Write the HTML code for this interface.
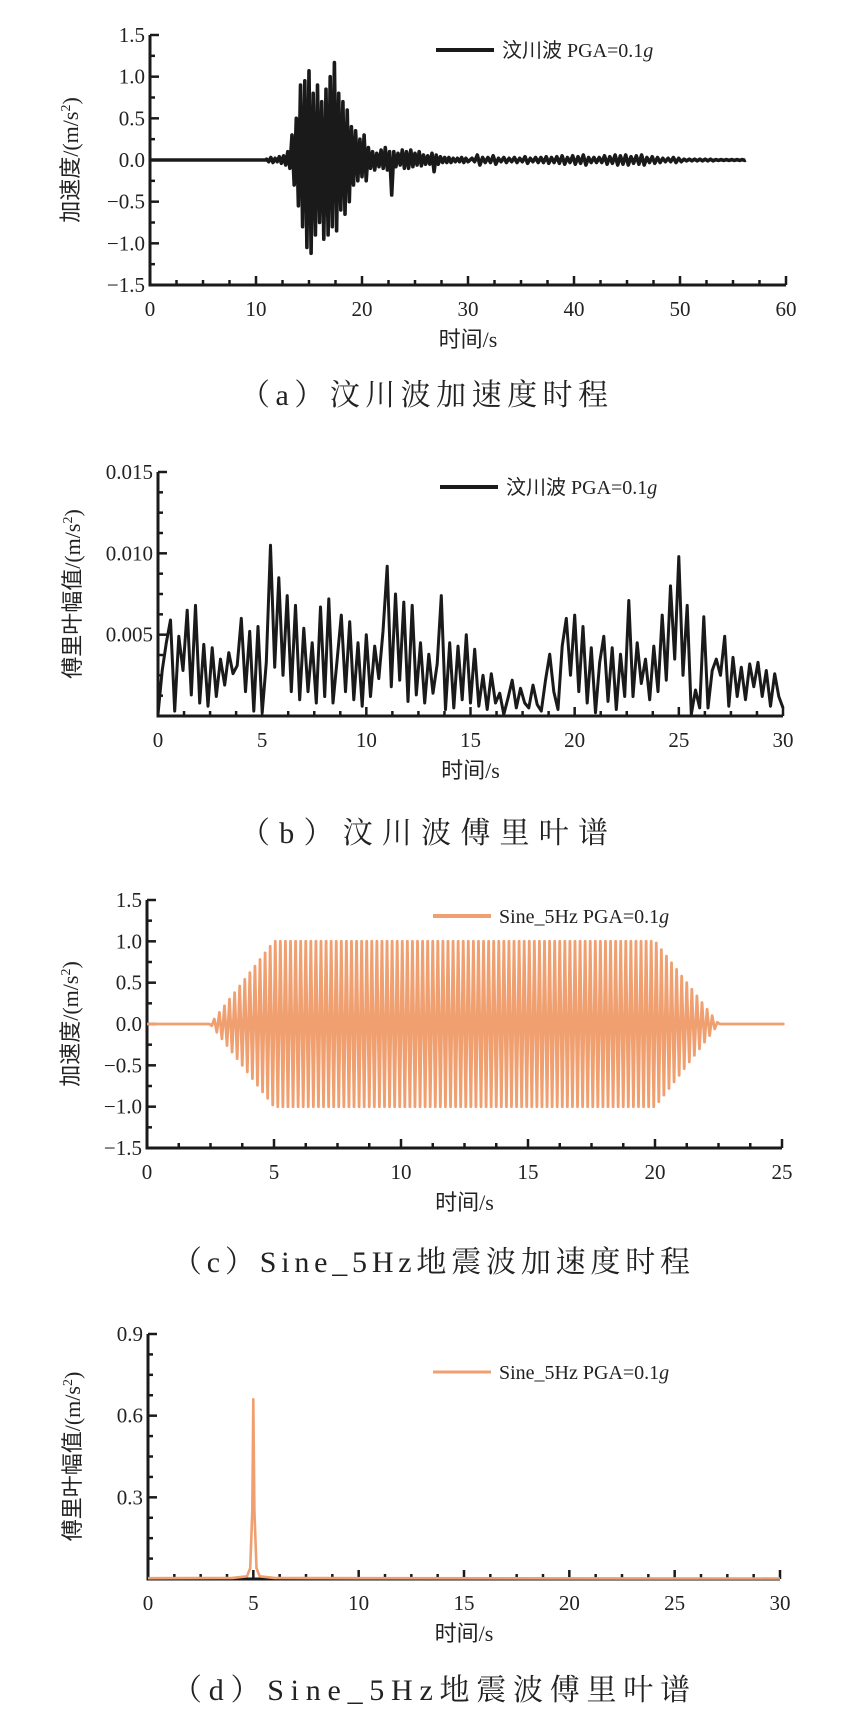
<!DOCTYPE html>
<html><head><meta charset="utf-8"><style>
body{margin:0;background:#fff;}
svg text{font-family:"Liberation Serif","Noto Serif CJK SC",serif;fill:#222;}
.cj{font-family:"Liberation Serif","Noto Sans CJK SC",sans-serif;}
.cap{font-family:"Liberation Serif","Noto Serif CJK SC",serif;}
</style></head><body>
<svg id="fig" width="861" height="1728" viewBox="0 0 861 1728" xmlns="http://www.w3.org/2000/svg"></svg>
<script>
// ---------- data: (a) Wenchuan acceleration peaks, t = 11.0 .. 30.0 step 0.2 ----------
const accStart = 11.0, accStep = 0.2;
const accPeaks = [0.01,-0.02,0.03,-0.03,0.02,-0.02,0.04,-0.04,0.05,-0.06,0.1,-0.1,0.3,-0.3,0.5,-0.55,0.9,-0.8,0.95,-1.05,1.07,-1.12,0.8,-0.9,0.9,-0.75,0.7,-0.95,0.85,-0.9,1.0,-0.8,1.17,-0.85,0.8,-0.6,0.7,-0.65,0.6,-0.5,0.4,-0.3,0.35,-0.25,0.25,-0.2,0.3,-0.25,0.15,-0.1,0.1,-0.12,0.08,-0.08,0.12,-0.1,0.15,-0.12,0.1,-0.42,0.1,-0.08,0.08,-0.06,0.12,-0.1,0.1,-0.1,0.12,-0.08,0.08,-0.06,0.1,-0.07,0.06,-0.05,0.05,-0.05,0.08,-0.14,0.06,-0.05,0.04,-0.03,0.03,-0.03,0.03,-0.03,0.02,-0.02,0.02,-0.02,0.03,-0.03,0.02,-0.02];
// tail t = 30.5 .. 56 step 0.5 amplitude
const tailStart = 30.5, tailStep = 0.5;
const tailAmp = [0.02,0.06,0.03,0.03,0.05,0.02,0.03,0.02,0.03,0.02,0.04,0.02,0.03,0.03,0.04,0.03,0.04,0.05,0.03,0.05,0.04,0.06,0.03,0.03,0.03,0.05,0.04,0.06,0.05,0.06,0.04,0.05,0.06,0.03,0.04,0.03,0.02,0.02,0.03,0.02,0.01,0.01,0.01,0.01,0.01,0.01,0.005,0.005,0.005,0.005,0.005,0.005];
const accEnd = 56.2;
// ---------- (b) Wenchuan Fourier amplitude, f = 0..30 step 0.2 ----------
const fftStep = 0.2;
const fftVals = [0.0001,0.0028,0.0045,0.0059,0.0003,0.0049,0.0028,0.0065,0.0013,0.0068,0.0008,0.0044,0.0006,0.0042,0.0012,0.0035,0.0019,0.0039,0.0026,0.0031,0.006,0.0015,0.0052,0.0003,0.0055,0.0002,0.0033,0.0105,0.003,0.0085,0.0025,0.0074,0.0015,0.0068,0.001,0.0054,0.0015,0.0045,0.0008,0.0067,0.0012,0.0072,0.0008,0.0035,0.0062,0.0015,0.0058,0.001,0.0045,0.0006,0.005,0.0012,0.0043,0.0023,0.0052,0.0092,0.0018,0.0075,0.0022,0.007,0.0009,0.0068,0.0013,0.0045,0.0008,0.0038,0.0014,0.0032,0.0074,0.0004,0.0045,0.0005,0.0043,0.001,0.005,0.0008,0.0041,0.0006,0.0025,0.0004,0.0026,0.0008,0.0014,0.0001,0.0011,0.0022,0.0005,0.0017,0.0008,0.0005,0.0019,0.0007,0.0003,0.0022,0.0038,0.0015,0.0004,0.0043,0.006,0.0025,0.0062,0.0015,0.0055,0.0008,0.0042,0.0002,0.0033,0.0049,0.0009,0.0042,0.0004,0.0038,0.0012,0.0071,0.0012,0.0045,0.002,0.0035,0.001,0.0043,0.0015,0.0062,0.0022,0.008,0.0035,0.0098,0.0025,0.0068,0.0001,0.0016,0.0005,0.0061,0.0005,0.0028,0.0035,0.0025,0.0049,0.0006,0.0036,0.0012,0.003,0.001,0.0032,0.0018,0.0033,0.0012,0.0028,0.0006,0.0026,0.0012,0.0005];
// ---------- (c) sine envelope ----------
const sineFreq = 5;
const envT = [0, 2.5, 5.0, 20.0, 22.5, 25];
const envA = [0, 0, 1.0, 1.0, 0, 0];
// ---------- (d) sine Fourier ----------
const sfF = [0, 4.0, 4.7, 4.85, 4.95, 5.0, 5.05, 5.15, 5.3, 6.0, 10, 30];
const sfA = [0.003, 0.004, 0.01, 0.04, 0.25, 0.66, 0.25, 0.04, 0.01, 0.004, 0.003, 0.002];

const NS='http://www.w3.org/2000/svg';
const svg=document.getElementById('fig');
function mk(tag,attrs,parent){const e=document.createElementNS(NS,tag);for(const k in attrs)e.setAttribute(k,attrs[k]);(parent||svg).appendChild(e);return e;}

function axes(cfg){
  const g=mk('g',{});
  
  
  const sx=v=>cfg.x0+(v-cfg.xmin)/(cfg.xmax-cfg.xmin)*(cfg.x1-cfg.x0);
  const sy=v=>cfg.y1-(v-cfg.ymin)/(cfg.ymax-cfg.ymin)*(cfg.y1-cfg.y0);
  const ax=mk('path',{d:`M${cfg.x0},${cfg.y0}V${cfg.y1}H${cfg.x1}`,fill:'none',stroke:'#1a1a1a','stroke-width':3},g);
  
  
  const tk=mk('g',{stroke:'#1a1a1a','stroke-width':2.5},g);
  
  
  for(let i=0;;i++){const v=cfg.xmin+i*cfg.xminor;if(v>cfg.xmax+1e-9)break;const maj=Math.abs(Math.round(v/cfg.xmajor)*cfg.xmajor-v)<1e-6;mk('line',{x1:sx(v),x2:sx(v),y1:cfg.y1,y2:cfg.y1-(maj?9:5)},tk);}
  for(let i=0;;i++){const v=cfg.ymin+i*cfg.yminor;if(v>cfg.ymax+1e-9)break;const maj=Math.abs(Math.round((v-cfg.ymaj0)/cfg.ymajor)*cfg.ymajor+cfg.ymaj0-v)<1e-9;mk('line',{y1:sy(v),y2:sy(v),x1:cfg.x0,x2:cfg.x0+(maj?9:5)},tk);}
  cfg.xticks.forEach(v=>{const t=mk('text',{x:sx(v),y:cfg.y1+31,'text-anchor':'middle','font-size':21},g);t.textContent=String(v);});
  cfg.yticks.forEach((v,i)=>{const t=mk('text',{x:cfg.x0-5,y:sy(v)+7,'text-anchor':'end','font-size':21},g);t.textContent=cfg.ylabels[i];});
  const xt=mk('text',{x:(cfg.x0+cfg.x1)/2,y:cfg.y1+62,'text-anchor':'middle','font-size':22,class:'cj'},g);xt.textContent='时间/s';
  
  const yc=(cfg.y0+cfg.y1)/2;
  const yt=mk('text',{x:cfg.ytx,y:yc,'text-anchor':'middle','font-size':22,class:'cj',transform:`rotate(-90 ${cfg.ytx} ${yc})`},g);
  yt.innerHTML=cfg.ytitle+'/(m/s<tspan dy="-8" font-size="14">2</tspan><tspan dy="8">)</tspan>';
  
  const lg=mk('g',{},g);
  mk('line',{x1:cfg.lx,x2:cfg.lx+58,y1:cfg.ly,y2:cfg.ly,stroke:cfg.color,'stroke-width':cfg.lw},lg);
  const lt=mk('text',{x:cfg.lx+66,y:cfg.ly+7,'font-size':20,class:'cj'},lg);
  lt.innerHTML=cfg.legend+' PGA=0.1<tspan font-style="italic">g</tspan>';
  const cp=mk('text',{x:cfg.capx,y:cfg.capy,'font-size':30,class:'cap',textLength:cfg.capw,lengthAdjust:'spacing'},svg);
  cp.textContent=cfg.caption;
  return {g,sx,sy};
}

// (a)
const A=axes({name:'chart-a-acceleration',x0:150,x1:786,y0:35,y1:285,xmin:0,xmax:60,ymin:-1.5,ymax:1.5,xminor:2.5,xmajor:10,yminor:0.25,ymajor:0.5,ymaj0:-1.5,
 xticks:[0,10,20,30,40,50,60],yticks:[1.5,1.0,0.5,0,-0.5,-1.0,-1.5],ylabels:['1.5','1.0','0.5','0.0','\u22120.5','\u22121.0','\u22121.5'],
 ytx:78,ytitle:'加速度',lx:436,ly:50,color:'#1a1a1a',lw:4,legend:'汶川波',caption:'（a）汶川波加速度时程',capx:240,capy:405,capw:368});
{let d=`M${A.sx(0)},${A.sy(0)}L${A.sx(accStart)},${A.sy(0)}`;
 accPeaks.forEach((v,i)=>{d+=`L${A.sx(accStart+i*accStep).toFixed(1)},${A.sy(v).toFixed(1)}`;});
 tailAmp.forEach((v,i)=>{const t=tailStart+i*tailStep;d+=`L${A.sx(t-0.12).toFixed(1)},${A.sy(v).toFixed(1)}L${A.sx(t+0.12).toFixed(1)},${A.sy(-v).toFixed(1)}`;});
 d+=`L${A.sx(accEnd)},${A.sy(0)}`;
 const p=mk('path',{d,fill:'none',stroke:'#1a1a1a','stroke-width':3.6,'stroke-linejoin':'round'},A.g);
 }

// (b)
const B=axes({name:'chart-b-fourier',x0:158,x1:783,y0:472,y1:716,xmin:0,xmax:30,ymin:0,ymax:0.015,xminor:1.25,xmajor:5,yminor:0.00125,ymajor:0.005,ymaj0:0,
 xticks:[0,5,10,15,20,25,30],yticks:[0.015,0.010,0.005],ylabels:['0.015','0.010','0.005'],
 ytx:80,ytitle:'傅里叶幅值',lx:440,ly:487,color:'#1a1a1a',lw:4,legend:'汶川波',caption:'（b）汶川波傅里叶谱',capx:240,capy:843,capw:368});
{let d='';fftVals.forEach((v,i)=>{d+=(i?'L':'M')+B.sx(i*fftStep).toFixed(1)+','+B.sy(v).toFixed(1);});
 const p=mk('path',{d,fill:'none',stroke:'#1a1a1a','stroke-width':3,'stroke-linejoin':'round'},B.g);
 }

// (c)
const C=axes({name:'chart-c-sine-acceleration',x0:147,x1:782,y0:900,y1:1148,xmin:0,xmax:25,ymin:-1.5,ymax:1.5,xminor:1.25,xmajor:5,yminor:0.25,ymajor:0.5,ymaj0:-1.5,
 xticks:[0,5,10,15,20,25],yticks:[1.5,1.0,0.5,0,-0.5,-1.0,-1.5],ylabels:['1.5','1.0','0.5','0.0','\u22120.5','\u22121.0','\u22121.5'],
 ytx:78,ytitle:'加速度',lx:433,ly:916,color:'#F0A070',lw:4,legend:'Sine_5Hz',caption:'（c）Sine_5Hz地震波加速度时程',capx:172,capy:1272,capw:518});
{function env(t){for(let i=1;i<envT.length;i++){if(t<=envT[i]){const r=(t-envT[i-1])/(envT[i]-envT[i-1]);return envA[i-1]+r*(envA[i]-envA[i-1]);}}return 0;}
 let d=`M${C.sx(0)},${C.sy(0)}`;const half=0.5/sineFreq;
 for(let k=0;k*half<=25;k++){const t=k*half+half/2;const a=env(t)*(k%2?-1:1);d+=`L${C.sx(t).toFixed(2)},${C.sy(a).toFixed(1)}`;}
 d+=`L${C.sx(25)},${C.sy(0)}`;
 const p=mk('path',{d,fill:'none',stroke:'#F0A070','stroke-width':2.8,'stroke-linejoin':'round'},C.g);
 }

// (d)
const D=axes({name:'chart-d-sine-fourier',x0:148,x1:780,y0:1334,y1:1579,xmin:0,xmax:30,ymin:0,ymax:0.9,xminor:1.25,xmajor:5,yminor:0.075,ymajor:0.3,ymaj0:0,
 xticks:[0,5,10,15,20,25,30],yticks:[0.9,0.6,0.3],ylabels:['0.9','0.6','0.3'],
 ytx:80,ytitle:'傅里叶幅值',lx:433,ly:1372,color:'#F0A070',lw:3,legend:'Sine_5Hz',caption:'（d）Sine_5Hz地震波傅里叶谱',capx:172,capy:1700,capw:518});
{let d='';sfF.forEach((f,i)=>{d+=(i?'L':'M')+D.sx(f).toFixed(1)+','+D.sy(sfA[i]).toFixed(1);});
 const p=mk('path',{d,fill:'none',stroke:'#F0A070','stroke-width':2.6,'stroke-linejoin':'round'},D.g);
 }
</script>
</body></html>
